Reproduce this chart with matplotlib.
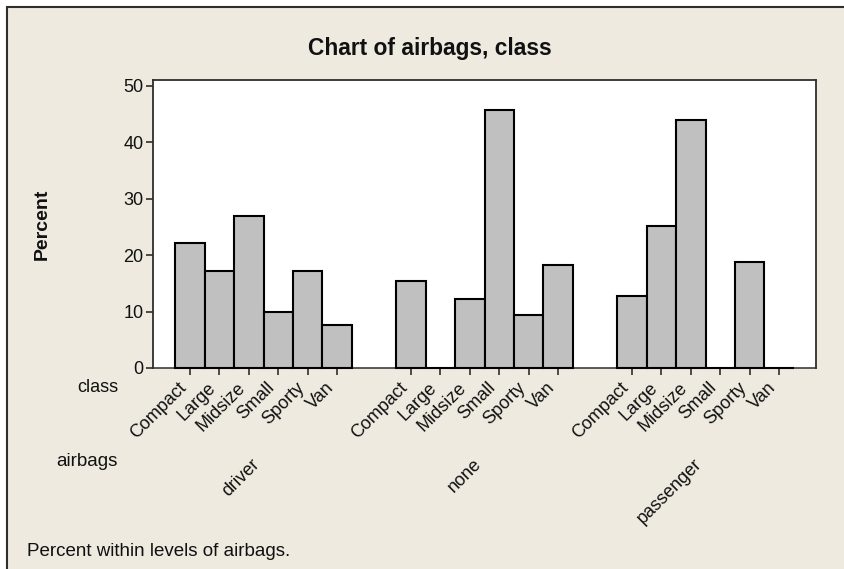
import matplotlib
matplotlib.use("Agg")
import matplotlib.pyplot as plt
from matplotlib.patches import Rectangle

# percent within levels of airbags
classes = ["Compact", "Large", "Midsize", "Small", "Sporty", "Van"]
airbags = ["driver", "none", "passenger"]
pct_driver = [22.2, 17.2, 26.9, 9.9, 17.2, 7.6]
pct_none = [15.4, 0.0, 12.2, 45.6, 9.4, 18.3]
pct_passenger = [12.8, 25.2, 44.0, 0.0, 18.8, 0.0]
y_ticks = [0, 10, 20, 30, 40, 50]

plt.rcParams["font.family"] = ["Liberation Sans", "DejaVu Sans"]

BG = "#eeeae0"
BAR = "#c0c0c0"
DARK = "#2e2e2e"
TXT = "#111111"

fig = plt.figure(figsize=(8.44, 5.69), dpi=100)
fig.patch.set_facecolor("white")
# beige panel with a border on the left/top (cropped on right/bottom)
fig.patches.append(Rectangle((7 / 844, -0.1), 1.1, 1.1 - 7 / 569,
                             transform=fig.transFigure, facecolor=BG,
                             edgecolor=DARK, linewidth=1.5, zorder=-10))

ax = fig.add_axes([153 / 844, 1 - 368 / 569, 663 / 844, 288 / 569])
ax.set_facecolor("white")

group_step = len(classes) + 1.5
all_vals = [pct_driver, pct_none, pct_passenger]
xs, labels = [], []
for g, vals in enumerate(all_vals):
    pos = [g * group_step + i for i in range(len(classes))]
    ax.bar(pos, vals, width=1.0, color=BAR, edgecolor="black", linewidth=1.5,
           zorder=3, clip_on=False)
    xs += pos
    labels += classes
    center = g * group_step + (len(classes) - 1) / 2
    ax.text(center, -0.305, airbags[g], transform=ax.get_xaxis_transform(),
            rotation=45, ha="right", va="top", fontsize=13, color=TXT)

ax.set_xlim(-1.25, 2 * group_step + len(classes) - 1 + 1.25)
ax.set_ylim(0, 51)
ax.set_yticks(y_ticks)
ax.set_xticks(xs)
ax.set_xticklabels(labels, rotation=45, ha="right", va="top", rotation_mode="default")

for sp in ax.spines.values():
    sp.set_color(DARK)
    sp.set_linewidth(1.3)
ax.spines["bottom"].set_linewidth(1.1)
ax.tick_params(axis="both", direction="out", length=5, width=1.2, color=DARK,
               labelsize=13, labelcolor=TXT)
ax.tick_params(axis="x", pad=3)
ax.tick_params(axis="y", pad=2)

fig.text(430 / 844, 1 - 48 / 569, "Chart of airbags, class", ha="center", va="center",
         fontsize=16.4, fontweight="bold", color=TXT)
fig.text(42 / 844, 1 - 224 / 569, "Percent", rotation=90, ha="center", va="center",
         fontsize=14, fontweight="bold", color=TXT)
fig.text(118 / 844, 1 - 388 / 569, "class", ha="right", va="center", fontsize=13, color=TXT)
fig.text(118 / 844, 1 - 462 / 569, "airbags", ha="right", va="center", fontsize=13.5, color=TXT)
fig.text(27 / 844, 1 - 552 / 569, "Percent within levels of airbags.", ha="left", va="center",
         fontsize=13.5, color=TXT)

fig.savefig("out.png", dpi=100, facecolor=fig.get_facecolor())
